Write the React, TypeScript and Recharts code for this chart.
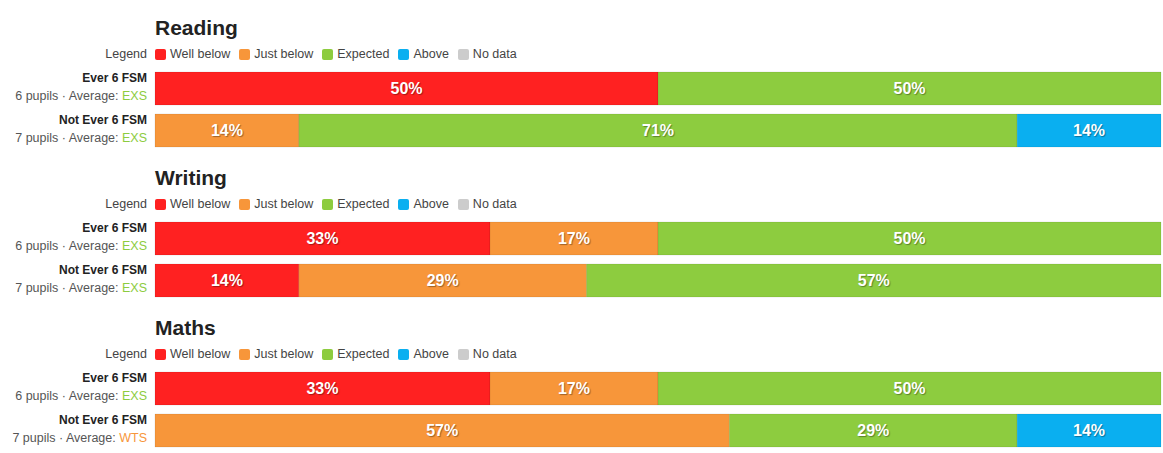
import React from "react";
import { BarChart, Bar, XAxis, YAxis, LabelList } from "recharts";

const subjects = ["Reading", "Writing", "Maths"];
const groups = ["Ever 6 FSM", "Not Ever 6 FSM"];
const pupils = [6, 7];

// per subject, per group (percent of pupils)
const wellBelow = [[50, 0], [33.3, 14.3], [33.3, 0]];
const justBelow = [[0, 14.3], [16.7, 28.6], [16.7, 57.1]];
const expected = [[50, 71.4], [50, 57.1], [50, 28.6]];
const above = [[0, 14.3], [0, 0], [0, 14.3]];
const noData = [[0, 0], [0, 0], [0, 0]];
const averages = [["EXS", "EXS"], ["EXS", "EXS"], ["EXS", "WTS"]];

const legendNames = ["Well below", "Just below", "Expected", "Above", "No data"];
const keys = ["wellBelow", "justBelow", "expected", "above", "noData"];
const COLORS = ["#ff2121", "#f7963a", "#8dcc3f", "#0aaff0", "#cccccc"];
const AVG_COLORS: any = { EXS: "#8dcc3f", WTS: "#f7963a" };

const FONT = "'Liberation Sans', Arial, sans-serif";

const W = 1163;
const LEFT = 155;

const PctLabel = (props: any) => {
  const { x, y, width, height, value } = props;
  if (!value) return null;
  return (
    <text
      x={x + width / 2}
      y={y + height / 2 + 1}
      textAnchor="middle"
      dominantBaseline="middle"
      fill="#fff"
      fontFamily={FONT}
      fontWeight="bold"
      fontSize={16}
      style={{ textShadow: "1px 1px 1px rgba(0,0,0,0.35)" }}
    >
      {Math.round(value) + "%"}
    </text>
  );
};

const GroupTick = (props: any) => {
  const { x, y, payload, subj } = props;
  const i = groups.indexOf(payload.value);
  const avg = averages[subj][i];
  return (
    <g>
      <text x={x} y={y - 6} textAnchor="end" fontFamily={FONT} fontWeight="bold" fontSize={12} fill="#222">
        {payload.value}
      </text>
      <text x={x} y={y + 12} textAnchor="end" fontFamily={FONT} fontSize={12.5} fill="#555">
        {pupils[i] + " pupils · Average: "}
        <tspan fill={AVG_COLORS[avg]}>{avg}</tspan>
      </text>
    </g>
  );
};

function Section({ s }: { s: number }) {
  const data = groups.map((g, i) => ({
    group: g,
    wellBelow: wellBelow[s][i],
    justBelow: justBelow[s][i],
    expected: expected[s][i],
    above: above[s][i],
    noData: noData[s][i],
  }));
  return (
    <div style={{ position: "relative", width: W, height: 150 }}>
      <div
        style={{
          position: "absolute",
          left: LEFT,
          top: 15,
          fontFamily: FONT,
          fontWeight: "bold",
          fontSize: 21,
          lineHeight: "26px",
          color: "#222",
        }}
      >
        {subjects[s]}
      </div>
      <div
        style={{
          position: "absolute",
          left: 0,
          top: 47,
          width: W,
          height: 14,
          fontFamily: FONT,
          fontSize: 12.5,
          lineHeight: "14px",
          color: "#444",
        }}
      >
        <span style={{ position: "absolute", right: W - 147 }}>Legend</span>
        <div style={{ position: "absolute", left: LEFT, display: "flex", alignItems: "center" }}>
          {legendNames.map((n, k) => (
            <span key={n} style={{ display: "flex", alignItems: "center", marginRight: 9 }}>
              <span
                style={{
                  display: "inline-block",
                  width: 11,
                  height: 11,
                  borderRadius: 2,
                  background: COLORS[k],
                  marginRight: 4,
                }}
              />
              {n}
            </span>
          ))}
        </div>
      </div>
      <div style={{ position: "absolute", left: 0, top: 67 }}>
        <BarChart
          width={W}
          height={84}
          data={data}
          layout="vertical"
          margin={{ top: 0, right: 2, bottom: 0, left: 0 }}
          barSize={33}
        >
          <XAxis type="number" domain={[0, 100]} hide />
          <YAxis
            type="category"
            dataKey="group"
            width={LEFT}
            axisLine={false}
            tickLine={false}
            tick={<GroupTick subj={s} />}
          />
          {keys.map((k, idx) => (
            <Bar
              key={k}
              dataKey={k}
              stackId="a"
              fill={COLORS[idx]}
              stroke="rgba(0,0,0,0.08)"
              isAnimationActive={false}
            >
              <LabelList dataKey={k} content={<PctLabel />} />
            </Bar>
          ))}
        </BarChart>
      </div>
    </div>
  );
}

export default function App() {
  return (
    <div style={{ position: "absolute", left: 0, top: 0, width: W, height: 453, background: "#fff" }}>
      {subjects.map((_, s) => (
        <Section key={s} s={s} />
      ))}
    </div>
  );
}
